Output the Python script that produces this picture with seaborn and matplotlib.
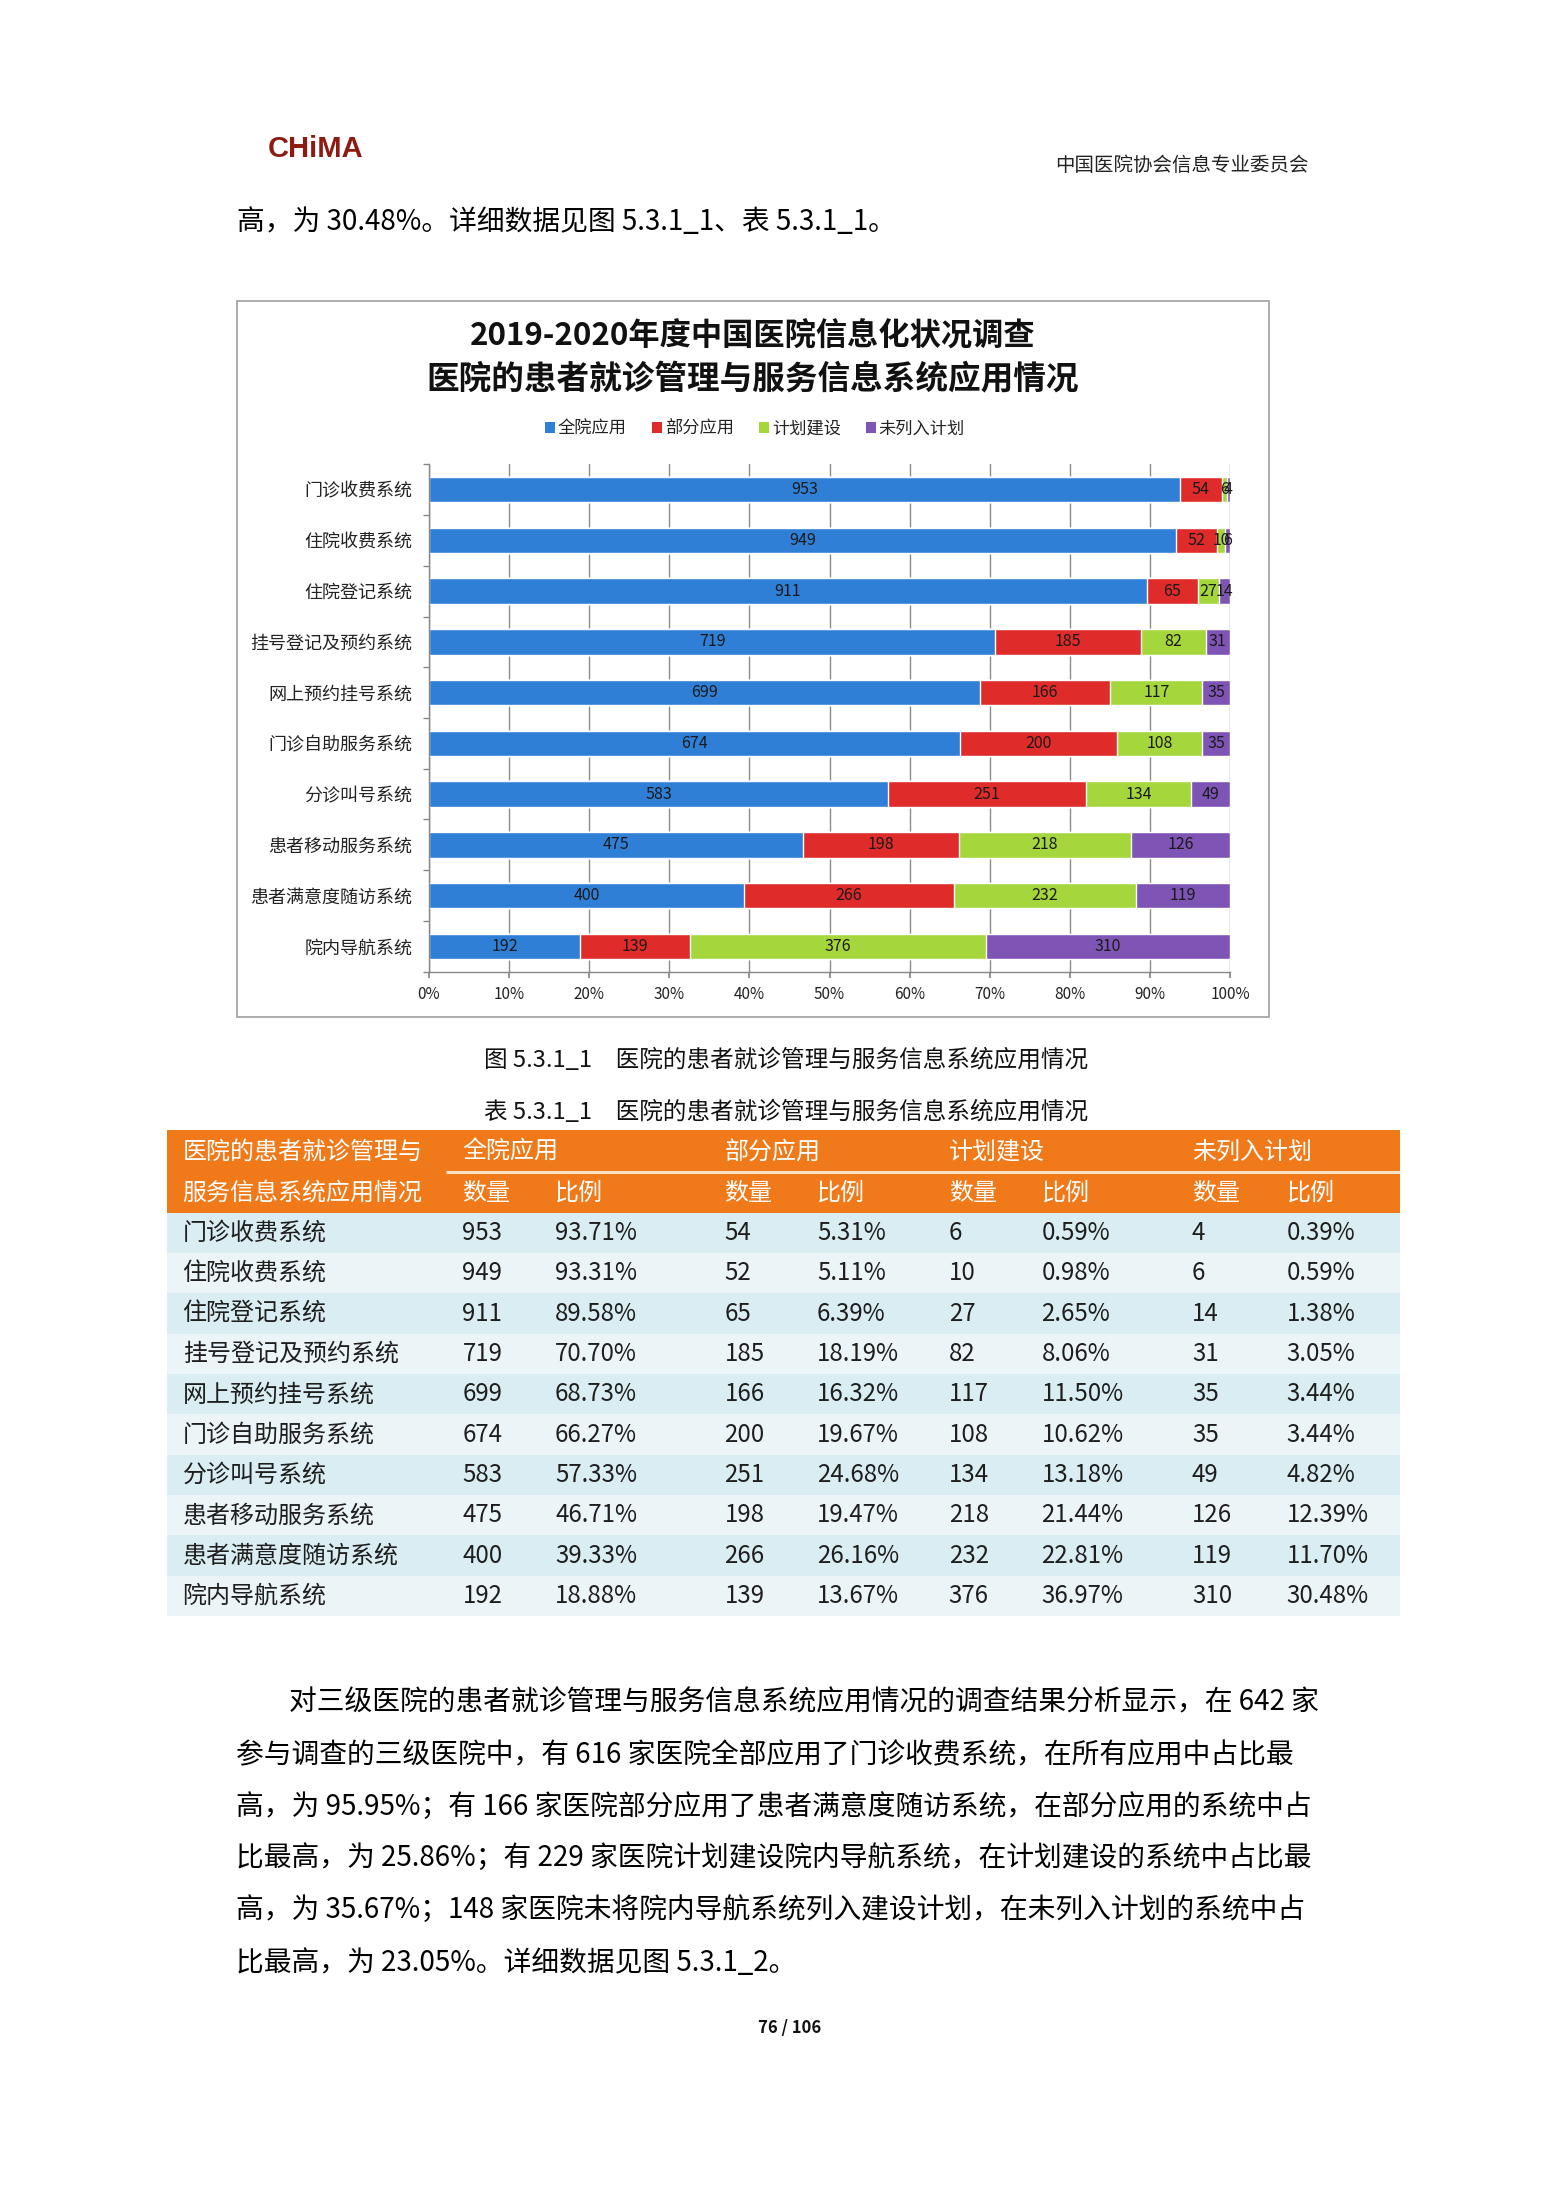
import numpy as np
import pandas as pd
import matplotlib
matplotlib.use("Agg")
import matplotlib.pyplot as plt
import seaborn as sns
from matplotlib.patches import Rectangle, Patch

# ---------------- data ----------------
systems = ["门诊收费系统", "住院收费系统", "住院登记系统", "挂号登记及预约系统", "网上预约挂号系统",
           "门诊自助服务系统", "分诊叫号系统", "患者移动服务系统", "患者满意度随访系统", "院内导航系统"]
series_names = ["全院应用", "部分应用", "计划建设", "未列入计划"]
full_use = [953, 949, 911, 719, 699, 674, 583, 475, 400, 192]
part_use = [54, 52, 65, 185, 166, 200, 251, 198, 266, 139]
planned = [6, 10, 27, 82, 117, 108, 134, 218, 232, 376]
not_planned = [4, 6, 14, 31, 35, 35, 49, 126, 119, 310]
x_ticks = [0, 10, 20, 30, 40, 50, 60, 70, 80, 90, 100]
x_tick_labels = [f"{t}%" for t in x_ticks]

title1 = "2019-2020年度中国医院信息化状况调查"
title2 = "医院的患者就诊管理与服务信息系统应用情况"
fig_caption = "图 5.3.1_1\u3000医院的患者就诊管理与服务信息系统应用情况"
tab_caption = "表 5.3.1_1\u3000医院的患者就诊管理与服务信息系统应用情况"
header_org = "中国医院协会信息专业委员会"
first_line = "高，为 30.48%。详细数据见图 5.3.1_1、表 5.3.1_1。"
para_lines = [
    "对三级医院的患者就诊管理与服务信息系统应用情况的调查结果分析显示，在 642 家",
    "参与调查的三级医院中，有 616 家医院全部应用了门诊收费系统，在所有应用中占比最",
    "高，为 95.95%；有 166 家医院部分应用了患者满意度随访系统，在部分应用的系统中占",
    "比最高，为 25.86%；有 229 家医院计划建设院内导航系统，在计划建设的系统中占比最",
    "高，为 35.67%；148 家医院未将院内导航系统列入建设计划，在未列入计划的系统中占",
    "比最高，为 23.05%。详细数据见图 5.3.1_2。",
]
page_no = "76 / 106"
table_head1 = "医院的患者就诊管理与"
table_head2 = "服务信息系统应用情况"
sub_heads = ["数量", "比例"]

colors = ["#2f7fd6", "#e02b2b", "#a5d63b", "#7e55b5"]

# ---------------- figure ----------------
sns.set_theme(style="white")
plt.rcParams["font.family"] = ["Noto Sans CJK SC", "DejaVu Sans"]
W, H = 1555, 2199
fig = plt.figure(figsize=(W / 100, H / 100), dpi=100)
fig.patch.set_facecolor("white")

page = fig.add_axes([0, 0, 1, 1])
page.set_xlim(0, W)
page.set_ylim(H, 0)
page.axis("off")

# header
page.text(268, 149, "CHiMA", fontsize=21, fontweight="bold", color="#8e1b12",
          family=["Liberation Sans", "DejaVu Sans"], ha="left", va="center")
page.text(1309, 165, header_org, fontsize=14, color="#222222", ha="right", va="center")
page.text(237, 222, first_line, fontsize=20, color="#000000", ha="left", va="center")

# chart frame
page.add_patch(Rectangle((237, 301), 1032, 716, facecolor="none", edgecolor="#a6a6a6", lw=1.3))

# ---------------- chart ----------------
df = pd.DataFrame({"system": systems, series_names[0]: full_use, series_names[1]: part_use,
                   series_names[2]: planned, series_names[3]: not_planned})
counts = df[series_names]
totals = counts.sum(axis=1)
pct = counts.div(totals, axis=0) * 100
cum = pct.cumsum(axis=1)

ax = fig.add_axes([429 / W, 1 - 971.7 / H, 801 / W, 507.4 / H])
ax.set_facecolor("none")
for name, col in reversed(list(zip(series_names, colors))):
    sns.barplot(x=cum[name].values, y=df["system"], order=systems, orient="h", color=col,
                saturation=1, width=0.5, errorbar=None, ax=ax, zorder=2)

for i in range(len(systems)):
    for j, name in enumerate(series_names):
        start = cum.iloc[i, j] - pct.iloc[i, j]
        ax.text(start + pct.iloc[i, j] / 2, i, str(counts.iloc[i, j]), ha="center", va="center",
                fontsize=11.5, color="#1a1a1a", zorder=3)

ax.set_xlim(0, 100)
ax.set_ylim(len(systems) - 0.5, -0.5)
ax.set_xticks(x_ticks)
ax.set_xticklabels(x_tick_labels, fontsize=11, color="#222222")
ax.set_yticks(range(len(systems)))
ax.set_yticklabels(systems, fontsize=13, color="#222222")
ax.set_yticks(np.arange(-0.5, len(systems), 1), minor=True)
ax.tick_params(axis="y", which="major", length=0, pad=12)
ax.tick_params(axis="y", which="minor", length=4, color="#868686", direction="out", left=True)
ax.tick_params(axis="x", which="major", length=4, color="#868686", direction="out", bottom=True, pad=6)
ax.set_xlabel("")
ax.set_ylabel("")
ax.set_axisbelow(True)
ax.xaxis.grid(True, color="#8c8c8c", lw=1.0)
ax.yaxis.grid(False)
for s in ["top", "right"]:
    ax.spines[s].set_visible(False)
for s in ["left", "bottom"]:
    ax.spines[s].set_color("#868686")
    ax.spines[s].set_linewidth(1.0)

fig.text(753 / W, 1 - 337 / H, title1, fontsize=22.5, fontweight="bold", ha="center", va="center", color="#111111")
fig.text(753 / W, 1 - 380 / H, title2, fontsize=23.5, fontweight="bold", ha="center", va="center", color="#111111")
handles = [Patch(facecolor=c, edgecolor="none") for c in colors]
fig.legend(handles, series_names, loc="center", bbox_to_anchor=(755 / W, 1 - 428.5 / H), ncol=4,
           frameon=False, fontsize=12.4, handlelength=0.6, handleheight=0.6, handletextpad=0.15,
           columnspacing=1.45, labelcolor="#222222")

# captions
page.text(786, 1060, fig_caption, fontsize=17, ha="center", va="center", color="#111111", fontweight="medium")
page.text(786, 1112, tab_caption, fontsize=17, ha="center", va="center", color="#111111", fontweight="medium")

# ---------------- table ----------------
tx0, tx1 = 166.5, 1400
page.add_patch(Rectangle((tx0, 1130), tx1 - tx0, 82.7, facecolor="#f07a1a", edgecolor="none"))
page.plot([446, tx1], [1171.7, 1171.7], color="#fde2c4", lw=2.2, solid_capstyle="butt")
label_x = 182.6
col_x = [462.4, 555, 724.5, 817, 948.7, 1041.5, 1192, 1286.6]
tfs = 17.3
page.text(label_x, 1151.5, table_head1, fontsize=tfs, color="white", ha="left", va="center")
page.text(label_x, 1193, table_head2, fontsize=tfs, color="white", ha="left", va="center")
for g, name in enumerate(series_names):
    page.text(col_x[2 * g], 1151.5, name, fontsize=tfs, color="white", ha="left", va="center")
    page.text(col_x[2 * g], 1193, sub_heads[0], fontsize=tfs, color="white", ha="left", va="center")
    page.text(col_x[2 * g + 1], 1193, sub_heads[1], fontsize=tfs, color="white", ha="left", va="center")

row_top = 1212.7
row_h = (1616 - 1212.7) / len(systems)
for i, sysname in enumerate(systems):
    y0 = row_top + i * row_h
    fc = "#d9edf3" if i % 2 == 0 else "#ebf5f8"
    page.add_patch(Rectangle((tx0, y0), tx1 - tx0, row_h, facecolor=fc, edgecolor="none"))
    yc = y0 + row_h / 2
    page.text(label_x, yc, sysname, fontsize=tfs, color="#1e1e1e", ha="left", va="center")
    for g, name in enumerate(series_names):
        page.text(col_x[2 * g], yc, str(counts.iloc[i, g]), fontsize=tfs, color="#1e1e1e", ha="left", va="center")
        page.text(col_x[2 * g + 1], yc, f"{pct.iloc[i, g]:.2f}%", fontsize=tfs, color="#1e1e1e", ha="left", va="center")

# ---------------- paragraph ----------------
line_y = [1702, 1755, 1807, 1858, 1910, 1963]
for k, (ln, yy) in enumerate(zip(para_lines, line_y)):
    page.text(289 if k == 0 else 235.6, yy, ln, fontsize=20, color="#000000", ha="left", va="center")

page.text(790, 2028, page_no, fontsize=12, fontweight="bold", ha="center", va="center", color="#111111")

fig.savefig("out.png", dpi=100, facecolor="white")
